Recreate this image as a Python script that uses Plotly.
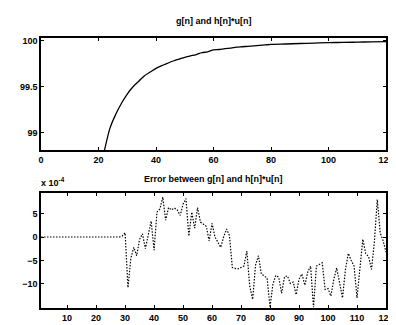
import plotly.graph_objects as go
from plotly.subplots import make_subplots

# Top plot: step response g[n] (only the visible part, n >= 20)
n_top = [20, 22, 24, 26, 28, 30, 32, 34, 36, 38, 40, 42, 44, 46, 48, 50, 52, 54, 56, 58,
         60, 62, 64, 66, 68, 70, 72, 74, 76, 78, 80, 85, 90, 95, 100, 105, 110, 115, 120]
g_vals = [98.55, 98.80, 99.05, 99.20, 99.32, 99.42, 99.50, 99.56, 99.62, 99.66, 99.70,
          99.73, 99.755, 99.78, 99.80, 99.82, 99.835, 99.85, 99.87, 99.88, 99.90, 99.905,
          99.915, 99.92, 99.93, 99.935, 99.94, 99.945, 99.95, 99.955, 99.96, 99.965,
          99.97, 99.975, 99.98, 99.982, 99.985, 99.988, 99.99]

# Bottom plot: error (units of 1e-4), n = 1..120
n_err = list(range(1, 121))
err_vals = [0] * 28 + [
    0.2, 0.9, -10.8, -4.5, -2.2, -4.0, -0.5, 0.7, -2.5, 0.5,      # 29-38
    3.4, -2.8, 5.3, 6.0, 8.5, 3.6, 6.3, 5.8, 6.2, 5.8,            # 39-48
    4.6, 7.0, 8.2, 0.2, 5.3, 1.9, 6.3, 3.2, 2.7, 2.3,             # 49-58
    -0.8, 2.9, 0.0, -1.0, -2.2, 0.0, 1.7, 0.3, -6.5, -6.7,        # 59-68
    -6.8, -6.5, -6.2, -3.0, -10.5, -13.3, -6.0, -4.0, -7.9, -8.3, # 69-78
    -8.8, -15.0, -10.0, -8.2, -8.6, -12.0, -8.5, -8.3, -9.9, -9.6, # 79-88
    -12.3, -9.0, -7.9, -10.3, -7.5, -6.2, -15.0, -6.2, -5.8, -5.5, # 89-98
    -11.2, -11.0, -12.6, -9.0, -6.6, -10.0, -13.0, -7.0, -3.5, -5.0, # 99-108
    -6.2, -13.0, -6.0, -0.5, -3.5, -4.2, -6.9, -1.0, 8.0, 0.9,    # 109-118
    -0.8, -3.2]                                                     # 119-120

top_xticks = [0, 20, 40, 60, 80, 100, 120]
top_yticks = [99, 99.5, 100]
top_ylabels = ["99", "99.5", "100"]
bot_xticks = [10, 20, 30, 40, 50, 60, 70, 80, 90, 100, 110, 120]
bot_yticks = [-10, -5, 0, 5]

fig = make_subplots(rows=2, cols=1)
fig.add_trace(go.Scatter(x=n_top, y=g_vals, mode="lines", line_shape="spline",
                         line=dict(color="black", width=1.3), showlegend=False), row=1, col=1)
fig.add_trace(go.Scatter(x=n_err, y=err_vals, mode="lines",
                         line=dict(color="black", width=1.2, dash="1.5px,1.5px"),
                         showlegend=False), row=2, col=1)

font = dict(family="Liberation Sans, Arial, sans-serif", size=9, color="black", weight="bold")
axis_common = dict(showline=True, linecolor="black", linewidth=1.5, mirror="ticks",
                   ticks="inside", ticklen=3, tickcolor="black", showgrid=False,
                   zeroline=False, tickfont=font)

fig.update_xaxes(**axis_common)
fig.update_yaxes(**axis_common)
fig.update_xaxes(ticklabeloverflow="allow")
fig.update_xaxes(range=[0, 120], tickvals=top_xticks, domain=[0, 1], row=1, col=1)
fig.update_yaxes(range=[98.81, 100.03], tickvals=top_yticks, ticktext=top_ylabels,
                 domain=[0.5845, 1.0], row=1, col=1)
fig.update_xaxes(range=[1, 120], tickvals=bot_xticks, domain=[0, 1], row=2, col=1)
fig.update_yaxes(range=[-15.15, 9.4], tickvals=bot_yticks, domain=[0, 0.426], row=2, col=1)

fig.update_layout(
    width=396, height=325,
    margin=dict(l=33, r=10, t=30, b=11),
    paper_bgcolor="white", plot_bgcolor="white",
    font=font,
    annotations=[
        dict(text="g[n] and h[n]*u[n]", xref="paper", yref="paper", x=0.5, y=1.0,
             yshift=10, xanchor="center", yanchor="bottom", showarrow=False, font=font),
        dict(text="Error between g[n] and h[n]*u[n]", xref="paper", yref="paper", x=0.5,
             y=0.426, yshift=7, xanchor="center", yanchor="bottom", showarrow=False, font=font),
        dict(text="x 10<sup>-4</sup>", xref="paper", yref="paper", x=-0.005, y=0.426,
             yshift=3, xanchor="left", yanchor="bottom", showarrow=False, font=font),
    ],
)

fig.write_html("out.html")
